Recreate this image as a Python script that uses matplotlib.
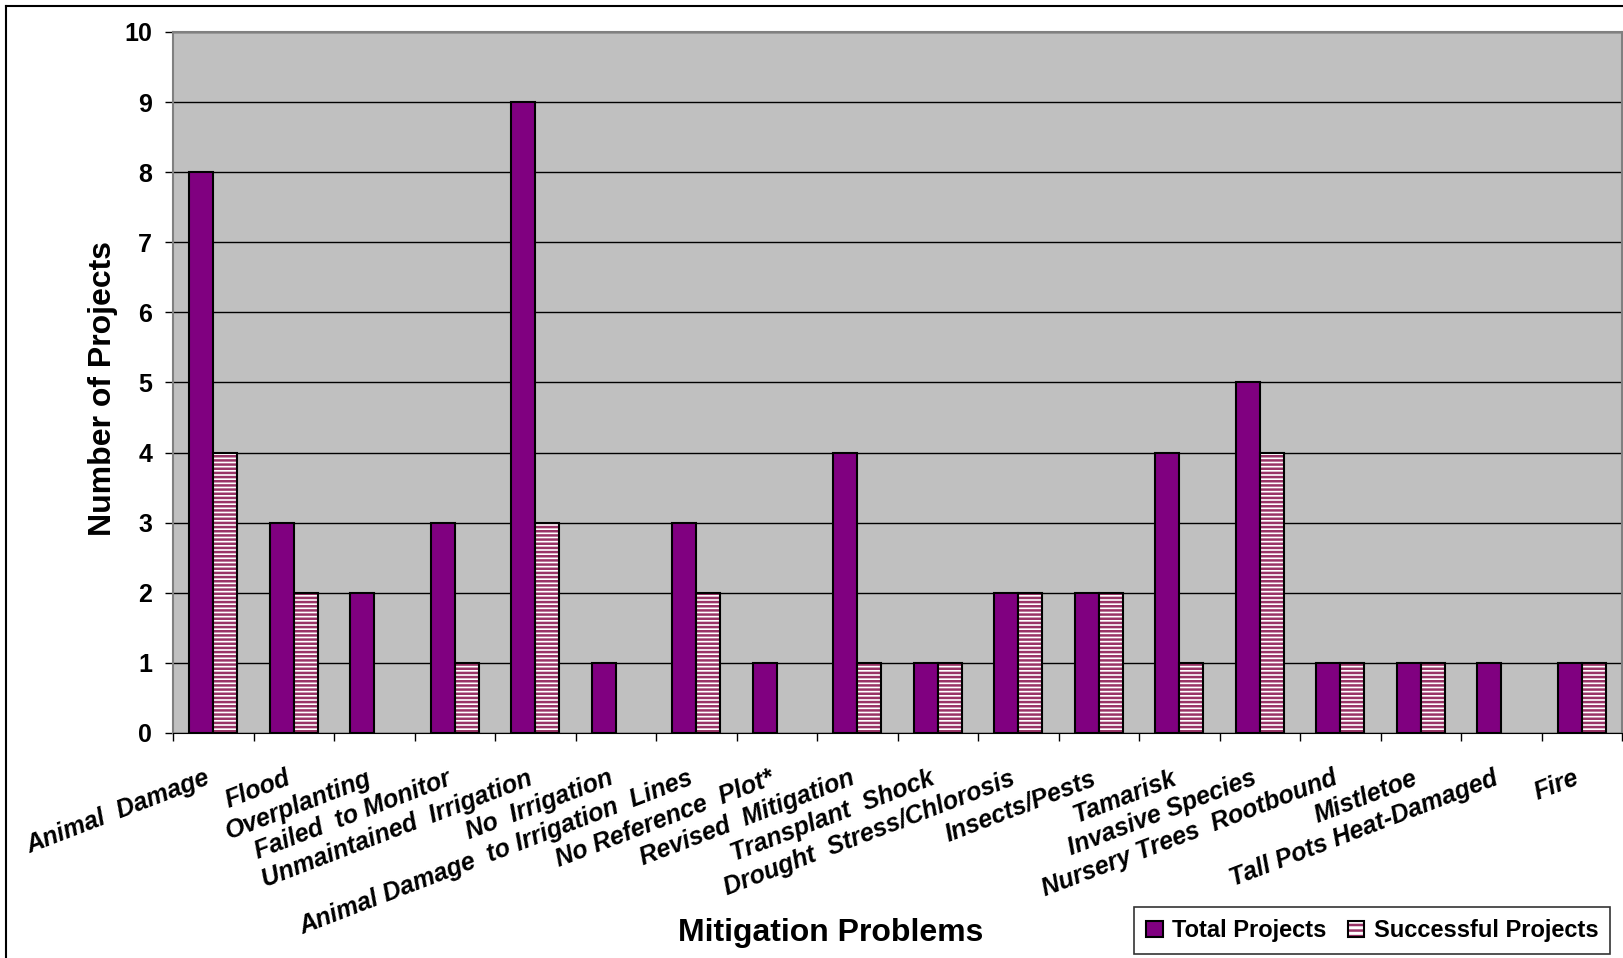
import matplotlib
matplotlib.use('Agg')
import matplotlib.pyplot as plt
from matplotlib.patches import Patch
from matplotlib.lines import Line2D
from matplotlib.legend_handler import HandlerTuple
import numpy as np

plt.rcParams['font.family'] = ['Liberation Sans', 'DejaVu Sans']
plt.rcParams['hatch.linewidth'] = 1.8

# Data
problems = ['Animal  Damage', 'Flood', 'Overplanting', 'Failed  to Monitor',
            'Unmaintained  Irrigation', 'No  Irrigation',
            'Animal Damage  to Irrigation  Lines', 'No Reference  Plot*',
            'Revised  Mitigation', 'Transplant  Shock',
            'Drought  Stress/Chlorosis', 'Insects/Pests', 'Tamarisk',
            'Invasive Species', 'Nursery Trees  Rootbound', 'Mistletoe',
            'Tall Pots Heat-Damaged', 'Fire']
total_projects = [8, 3, 2, 3, 9, 1, 3, 1, 4, 1, 2, 2, 4, 5, 1, 1, 1, 1]
successful_projects = [4, 2, 0, 1, 3, 0, 2, 0, 1, 1, 2, 2, 1, 4, 1, 1, 0, 1]

purple = '#800080'
stripe = '#993366'

fig = plt.figure(figsize=(16.23, 9.58), dpi=100)
ax = fig.add_axes([173 / 1623, 1 - 733 / 958, (1622 - 173) / 1623, (733 - 32) / 958])
ax.set_facecolor('#C0C0C0')

index = np.arange(len(problems))
bar_width = 0.3
total = np.array(total_projects)
succ = np.array(successful_projects)

# zero-valued bars are not drawn
tx = index[total > 0]
sx = index[succ > 0]
ax.bar(tx + 0.35, total[total > 0], bar_width, color=purple,
       edgecolor='black', linewidth=1.5, zorder=3)
# striped bars: hatch first, then black outline on top
ax.bar(sx + 0.65, succ[succ > 0], bar_width, color='white',
       edgecolor=stripe, hatch='----', linewidth=0, zorder=3)
ax.bar(sx + 0.65, succ[succ > 0], bar_width, fill=False,
       edgecolor='black', linewidth=1.5, zorder=4)

ax.set_xlim(0, len(problems))
ax.set_ylim(0, 10)
ax.set_yticks(range(11))
ax.yaxis.grid(True, color='black', linewidth=1.0, zorder=1)
ax.set_axisbelow(True)

for lbl in ax.get_yticklabels():
    lbl.set_fontweight('bold')
ax.tick_params(axis='y', labelsize=18, length=6, width=1, direction='out', pad=9)

# category boundary ticks, labels at category centres
ax.set_xticks(range(len(problems) + 1))
ax.set_xticklabels([])
ax.tick_params(axis='x', which='major', length=6, width=1, direction='out')
ax.set_xticks(index + 0.45, minor=True)
ax.set_xticklabels(problems, minor=True, rotation=21, ha='right',
                   rotation_mode='anchor', fontsize=18, fontweight='bold',
                   fontstyle='italic', va='center')
ax.tick_params(axis='x', which='minor', length=0, pad=32)

for side in ['left', 'top', 'right']:
    ax.spines[side].set_color('#808080')
    ax.spines[side].set_linewidth(1.5)
ax.spines['bottom'].set_color('black')

fig.text(103 / 1623, 1 - 388 / 958, 'Number of Projects', rotation=90,
         ha='center', va='center', fontsize=23, fontweight='bold')
fig.text(831 / 1623, 1 - 933 / 958, 'Mitigation Problems',
         ha='center', va='center', fontsize=23, fontweight='bold')

h_total = Patch(facecolor=purple, edgecolor='black', linewidth=1.5)
h_succ = (Patch(facecolor='white', edgecolor=stripe, hatch='---', linewidth=0),
          Patch(fill=False, edgecolor='black', linewidth=1.5))
leg = fig.legend([h_total, h_succ], ['Total Projects', 'Successful Projects'],
                 handler_map={tuple: HandlerTuple(ndivide=1, pad=0)},
                 loc='lower right', bbox_to_anchor=(1610 / 1623, 4 / 958),
                 borderaxespad=0, ncol=2, frameon=True, fancybox=False,
                 edgecolor='black', prop={'size': 17, 'weight': 'bold'},
                 handlelength=0.7, handleheight=0.7, handletextpad=0.4,
                 columnspacing=0.9, borderpad=0.5)
leg.get_frame().set_linewidth(1.2)

# outer chart border (left and top visible)
fig.add_artist(Line2D([6 / 1623, 6 / 1623], [0, 1 - 6 / 958], color='black',
                      linewidth=1.5, transform=fig.transFigure))
fig.add_artist(Line2D([6 / 1623, 1], [1 - 6 / 958, 1 - 6 / 958], color='black',
                      linewidth=1.5, transform=fig.transFigure))

plt.savefig('out.png', dpi=100)
